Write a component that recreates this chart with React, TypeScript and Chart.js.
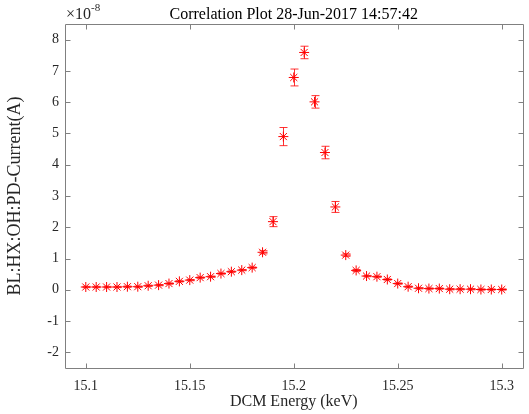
import React, { useEffect, useRef } from 'react';
import { Chart, registerables } from 'chart.js';

Chart.register(...registerables);

// DCM energy (keV)
const energy = [
  15.1, 15.105, 15.11, 15.115, 15.12, 15.125, 15.13, 15.135, 15.14, 15.145,
  15.15, 15.155, 15.16, 15.165, 15.17, 15.175, 15.18, 15.185, 15.19, 15.195,
  15.2, 15.205, 15.21, 15.215, 15.22, 15.225, 15.23, 15.235, 15.24, 15.245,
  15.25, 15.255, 15.26, 15.265, 15.27, 15.275, 15.28, 15.285, 15.29, 15.295, 15.3,
];
// PD current (units of 1e-8 A)
const current = [
  0.09, 0.09, 0.09, 0.09, 0.1, 0.1, 0.13, 0.15, 0.2, 0.27,
  0.31, 0.39, 0.42, 0.52, 0.58, 0.63, 0.71, 1.2, 2.18, 4.9,
  6.79, 7.59, 6.01, 4.39, 2.65, 1.11, 0.62, 0.44, 0.42, 0.33,
  0.2, 0.1, 0.05, 0.04, 0.04, 0.02, 0.02, 0.02, 0.01, 0.01, 0.01,
];
// error bar half-heights (units of 1e-8 A)
const errorSize = [
  0.02, 0.02, 0.02, 0.02, 0.02, 0.02, 0.02, 0.02, 0.02, 0.02,
  0.02, 0.02, 0.02, 0.02, 0.02, 0.02, 0.02, 0.05, 0.16, 0.29,
  0.27, 0.2, 0.2, 0.2, 0.175, 0.04, 0.03, 0.02, 0.02, 0.02,
  0.02, 0.02, 0.02, 0.02, 0.02, 0.02, 0.02, 0.02, 0.02, 0.02, 0.02,
];

const xTicks = [15.1, 15.15, 15.2, 15.25, 15.3];
const yTicks = [-2, -1, 0, 1, 2, 3, 4, 5, 6, 7, 8];

const titleText = 'Correlation Plot 28-Jun-2017 14:57:42';
const xTitle = 'DCM Energy (keV)';
const yTitle = 'BL:HX:OH:PD-Current(A)';
const exponentBase = '\u00d710';
const exponentPower = '-8';

const FONT = "'Liberation Serif', 'Times New Roman', serif";
const AXIS_COLOR = '#808080';
const TEXT_COLOR = '#262626';

const errorBarPlugin = {
  id: 'errorBars',
  afterDatasetsDraw(chart: any) {
    const { ctx } = chart;
    const xs = chart.scales.x;
    const ys = chart.scales.y;
    ctx.save();
    ctx.strokeStyle = 'rgba(255,0,0,0.8)';
    ctx.lineWidth = 1;
    energy.forEach((e, i) => {
      const px = Math.round(xs.getPixelForValue(e)) + 0.5;
      const top = ys.getPixelForValue(current[i] + errorSize[i]);
      const bot = ys.getPixelForValue(current[i] - errorSize[i]);
      ctx.beginPath();
      ctx.moveTo(px, top);
      ctx.lineTo(px, bot);
      ctx.moveTo(px - 4, top);
      ctx.lineTo(px + 4, top);
      ctx.moveTo(px - 4, bot);
      ctx.lineTo(px + 4, bot);
      ctx.stroke();
    });
    ctx.restore();
  },
};

const framePlugin = {
  id: 'matlabFrame',
  afterDraw(chart: any) {
    const { ctx, chartArea } = chart;
    const { left, right, top, bottom } = chartArea;
    const xs = chart.scales.x;
    const ys = chart.scales.y;
    const tl = 5;
    ctx.save();
    ctx.strokeStyle = AXIS_COLOR;
    ctx.lineWidth = 1;
    const L = Math.round(left) + 0.5;
    const R = Math.round(right) + 0.5;
    const T = Math.round(top) + 0.5;
    const B = Math.round(bottom) + 0.5;
    ctx.beginPath();
    ctx.rect(L, T, R - L, B - T);
    xTicks.forEach((v) => {
      const p = Math.round(xs.getPixelForValue(v)) + 0.5;
      ctx.moveTo(p, B);
      ctx.lineTo(p, B - tl);
      ctx.moveTo(p, T);
      ctx.lineTo(p, T + tl);
    });
    yTicks.forEach((v) => {
      const p = Math.round(ys.getPixelForValue(v)) + 0.5;
      ctx.moveTo(L, p);
      ctx.lineTo(L + tl, p);
      ctx.moveTo(R, p);
      ctx.lineTo(R - tl, p);
    });
    ctx.stroke();

    // title centred over the plot area
    ctx.fillStyle = '#000';
    ctx.textAlign = 'center';
    ctx.textBaseline = 'alphabetic';
    ctx.font = `16px ${FONT}`;
    ctx.fillText(titleText, (left + right) / 2, top - 5);

    // exponent label
    ctx.fillStyle = TEXT_COLOR;
    ctx.textAlign = 'left';
    ctx.font = `16px ${FONT}`;
    ctx.fillText(exponentBase, left + 1, top - 5);
    const w = ctx.measureText(exponentBase).width;
    ctx.font = `11px ${FONT}`;
    ctx.fillText(exponentPower, left + 1 + w, top - 13);
    ctx.restore();
  },
};

export default function App() {
  const canvasRef = useRef<HTMLCanvasElement | null>(null);

  useEffect(() => {
    if (!canvasRef.current) return;
    const points = energy.map((e, i) => ({ x: e, y: current[i] }));
    const chart = new Chart(canvasRef.current, {
      type: 'scatter',
      data: {
        datasets: [
          {
            label: 'PD current',
            data: points,
            pointStyle: 'star',
            pointRadius: 5,
            pointBorderWidth: 1,
            borderColor: '#ff0000',
            backgroundColor: '#ff0000',
            showLine: false,
          },
        ],
      },
      options: {
        animation: false,
        responsive: false,
        layout: { padding: { left: 0, right: 6.5, top: 24, bottom: 0 } },
        plugins: {
          legend: { display: false },
          tooltip: { enabled: false },
          title: { display: false },
        },
        scales: {
          x: {
            type: 'linear',
            min: 15.09,
            max: 15.31,
            grid: { display: false, drawTicks: false },
            border: { display: false },
            afterBuildTicks: (s: any) => {
              s.ticks = xTicks.map((v) => ({ value: v }));
            },
            afterFit: (s: any) => {
              s.height = 46;
            },
            ticks: {
              color: TEXT_COLOR,
              font: { family: FONT, size: 14 },
              padding: 10,
              maxRotation: 0,
              autoSkip: false,
              callback: (v: any) => String(Number(Number(v).toFixed(3))),
            },
            title: {
              display: true,
              text: xTitle,
              color: TEXT_COLOR,
              font: { family: FONT, size: 16 },
              padding: { top: 0, bottom: 3 },
            },
          },
          y: {
            type: 'linear',
            min: -2.5,
            max: 8.5,
            grid: { display: false, drawTicks: false },
            border: { display: false },
            afterBuildTicks: (s: any) => {
              s.ticks = yTicks.map((v) => ({ value: v }));
            },
            afterFit: (s: any) => {
              s.width = 65;
            },
            ticks: {
              color: TEXT_COLOR,
              font: { family: FONT, size: 14 },
              padding: 6,
              autoSkip: false,
              callback: (v: any) => String(v),
            },
            title: {
              display: true,
              text: yTitle,
              color: TEXT_COLOR,
              font: { family: FONT, size: 18 },
              padding: { top: 4, bottom: 0 },
            },
          },
        },
      },
      plugins: [errorBarPlugin, framePlugin],
    } as any);
    return () => chart.destroy();
  }, []);

  return (
    <div style={{ position: 'absolute', left: 0, top: 0, width: 529, height: 414, background: '#fff' }}>
      <canvas ref={canvasRef} width={529} height={414} style={{ display: 'block' }} />
    </div>
  );
}
